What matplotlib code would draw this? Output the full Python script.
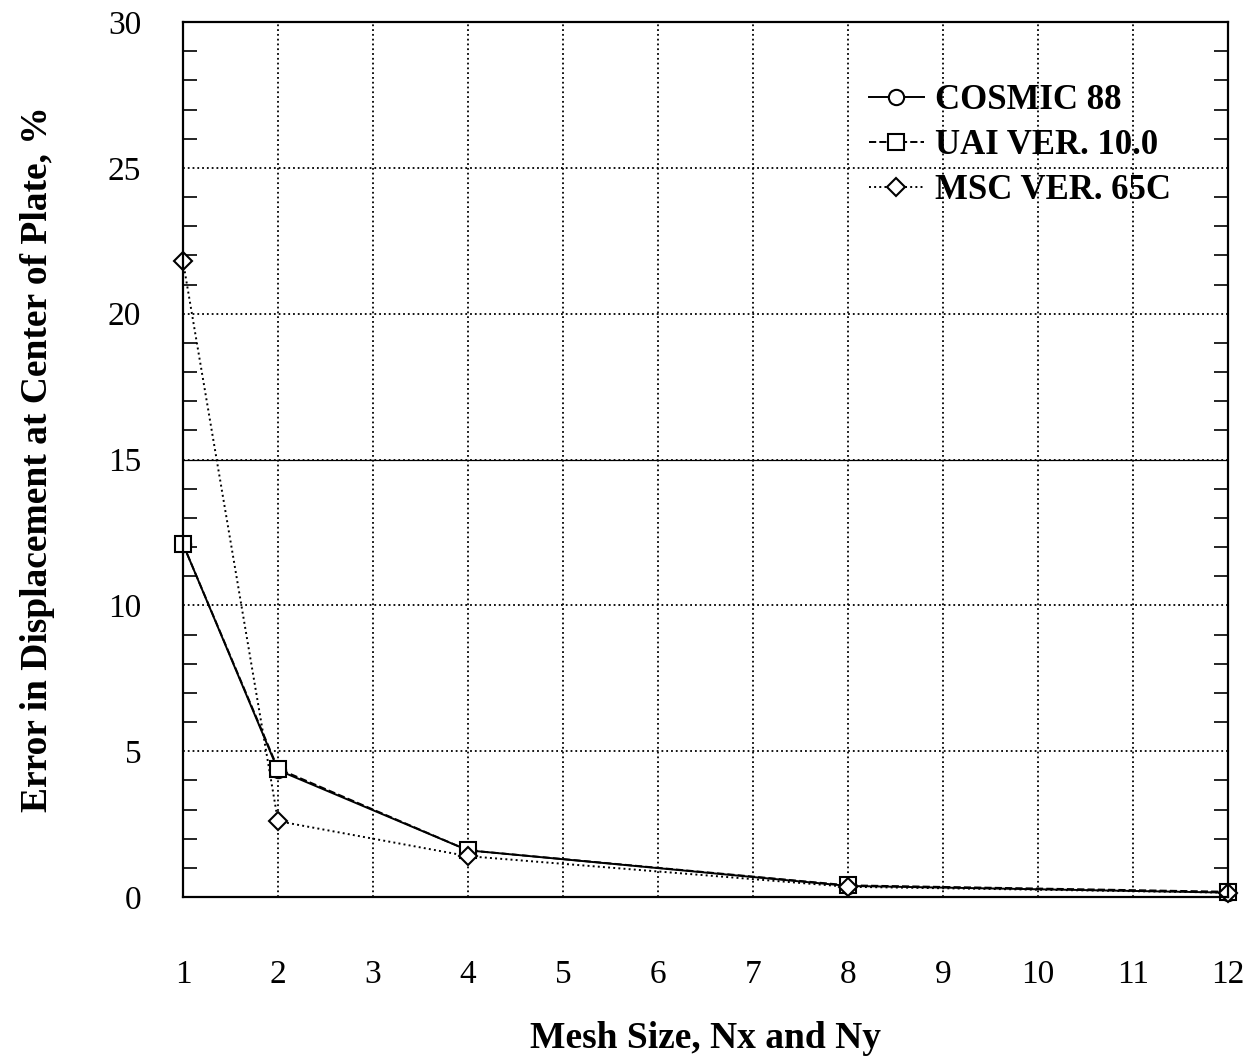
import matplotlib.pyplot as plt
from matplotlib.ticker import MultipleLocator

mesh = [1, 2, 4, 8, 12]
cosmic = [12.1, 4.35, 1.6, 0.38, 0.15]
uai = [12.1, 4.4, 1.6, 0.4, 0.18]
msc = [21.8, 2.6, 1.4, 0.35, 0.15]

plt.rcParams['font.family'] = ['Liberation Serif', 'DejaVu Serif']

fig = plt.figure(figsize=(12.5, 10.61), dpi=100)
ax = fig.add_axes([183/1250, 1 - 897/1061, (1228-183)/1250, (897-22)/1061])

mk = dict(markersize=11, markerfacecolor='white', markeredgecolor='black', markeredgewidth=1.5)
ax.plot(mesh, cosmic, '-', color='black', lw=1.4, marker='o', label='COSMIC 88', clip_on=False, **mk)
ax.plot(mesh, uai, '--', color='black', lw=1.4, marker='s', label='UAI VER. 10.0', clip_on=False, **mk)
ax.plot(mesh, msc, ':', color='black', lw=1.4, marker='D', label='MSC VER. 65C', clip_on=False,
        markersize=9, markerfacecolor='white', markeredgecolor='black', markeredgewidth=1.5)

ax.set_xlim(1, 12)
ax.set_ylim(0, 30)
ax.set_xticks(range(1, 13))
ax.yaxis.set_major_locator(MultipleLocator(5))
ax.yaxis.set_minor_locator(MultipleLocator(1))
ax.grid(True, which='major', linestyle=':', color='black', lw=1.3)
ax.axhline(15, color='black', lw=0.9)

ax.tick_params(axis='x', which='both', length=0, pad=45, labelsize=24)
ax.tick_params(axis='y', which='major', length=0, pad=30, labelsize=24)
ax.tick_params(axis='y', which='minor', direction='in', length=10, width=1.2, left=True, right=True)
for s in ax.spines.values():
    s.set_linewidth(1.6)

ax.set_xlabel('Mesh Size, Nx and Ny', fontsize=27, fontweight='bold', labelpad=22)
ax.set_ylabel('Error in Displacement at Center of Plate, %', fontsize=27, fontweight='bold', labelpad=38)

leg = ax.legend(loc='upper right', bbox_to_anchor=(0.975, 0.965), frameon=False,
                prop={'size': 25, 'weight': 'bold'}, handlelength=1.6, handletextpad=0.3,
                labelspacing=0.35)

fig.savefig('out.png', dpi=100)
